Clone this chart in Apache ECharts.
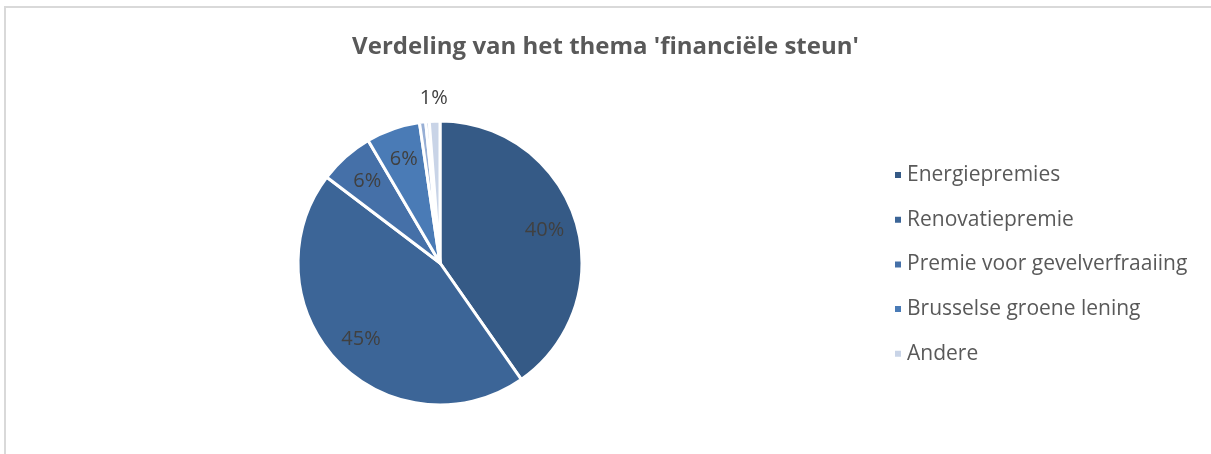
<!DOCTYPE html>
<html>
<head>
<meta charset="utf-8">
<script src="https://cdn.jsdelivr.net/npm/echarts@6/dist/echarts.min.js"></script>
<style>
  html, body { margin:0; padding:0; background:#fff; }
  #frame { position:absolute; left:4px; top:6px; width:1207px; height:448px; border-top:2px solid #d9d9d9; border-left:2px solid #d9d9d9; box-sizing:border-box; }
  #chart { position:absolute; left:0; top:0; width:1211px; height:454px; }
</style>
</head>
<body>
<div id="frame"></div>
<div id="chart"></div>
<script>
const titleText = "Verdeling van het thema 'financiële steun'";
const categories = ["Energiepremies", "Renovatiepremie", "Premie voor gevelverfraaiing", "Brusselse groene lening", "Andere (a)", "Andere (b)", "Andere"];
const legendNames = ["Energiepremies", "Renovatiepremie", "Premie voor gevelverfraaiing", "Brusselse groene lening", "Andere"];
const values = [40.1, 44.8, 6.2, 6.1, 0.7, 0.4, 1.2];
const colors = ["#355a86", "#3c6597", "#4570a8", "#4a7bb6", "#98afd5", "#bccae2", "#c9d4e7"];
const insideLabel = [true, true, true, true, false, false, false];
const outsideLabel = [false, false, false, false, false, false, true];

const cx = 440, cy = 263, R = 142;

const mainData = categories.map((n, i) => ({ name: n, value: values[i], itemStyle: { color: colors[i] } }));
const makeLabelData = (flags) => categories.map((n, i) => {
  const item = { name: n, value: values[i] };
  if (!flags[i]) item.label = { show: false };
  return item;
});

const labelStyle = {
  show: true,
  position: 'inside',
  formatter: '{d}%',
  fontFamily: 'Open Sans',
  fontSize: 20,
  color: '#404040'
};

const chart = echarts.init(document.getElementById('chart'), null, { renderer: 'canvas' });
chart.setOption({
  animation: false,
  color: colors,
  title: {
    text: titleText,
    left: 'center',
    top: 30,
    textStyle: { fontFamily: 'Open Sans', fontWeight: 'bold', fontSize: 24, color: '#595959' }
  },
  legend: {
    data: legendNames,
    orient: 'vertical',
    left: 888,
    top: 159,
    icon: 'rect',
    itemWidth: 8,
    itemHeight: 8,
    itemGap: 22.7,
    textStyle: { fontFamily: 'Open Sans', fontSize: 21, color: '#595959', lineHeight: 22 }
  },
  series: [
    {
      type: 'pie',
      center: [cx, cy],
      radius: [0, R],
      startAngle: 90,
      clockwise: true,
      label: { show: false },
      labelLine: { show: false },
      itemStyle: { borderColor: '#ffffff', borderWidth: 3 },
      emphasis: { disabled: true },
      data: mainData
    },
    {
      type: 'pie',
      center: [cx, cy],
      radius: [R * 0.5, R],
      startAngle: 90,
      clockwise: true,
      silent: true,
      percentPrecision: 0,
      legendHoverLink: false,
      itemStyle: { color: 'rgba(0,0,0,0)', borderWidth: 0 },
      label: labelStyle,
      labelLine: { show: false },
      emphasis: { disabled: true },
      data: makeLabelData(insideLabel)
    },
    {
      type: 'pie',
      center: [cx, cy],
      radius: [R + 10, R + 30],
      startAngle: 90,
      clockwise: true,
      silent: true,
      percentPrecision: 0,
      legendHoverLink: false,
      itemStyle: { color: 'rgba(0,0,0,0)', borderWidth: 0 },
      label: labelStyle,
      labelLine: { show: false },
      emphasis: { disabled: true },
      data: makeLabelData(outsideLabel)
    }
  ]
});
</script>
</body>
</html>
